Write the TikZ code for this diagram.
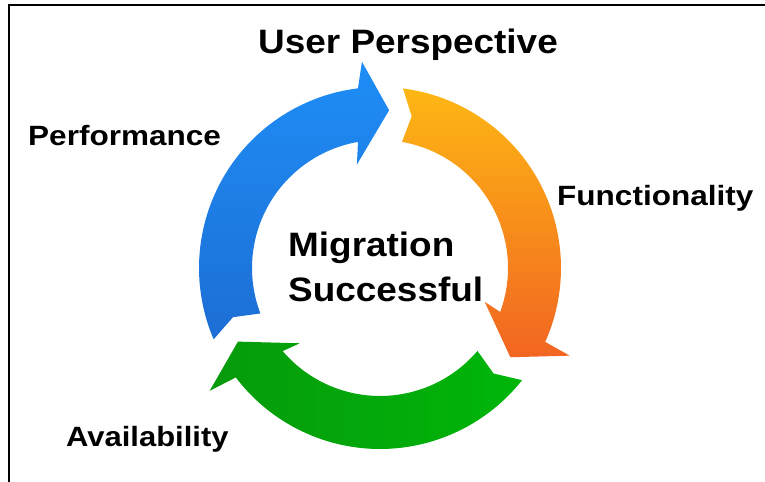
\documentclass[tikz,border=0pt]{standalone}
\usepackage{fontspec}
\setmainfont{Liberation Sans}
\definecolor{blueTop}{HTML}{1E8EF7}
\definecolor{blueBot}{HTML}{1D6ED4}
\definecolor{orangeTop}{HTML}{FDB714}
\definecolor{orangeBot}{HTML}{F26522}
\definecolor{greenL}{HTML}{079A0B}
\definecolor{greenR}{HTML}{00B60A}
\tikzset{
  biglabel/.style={anchor=base west, inner sep=0pt, font=\bfseries\fontsize{34}{36}\selectfont},
  smalllabel/.style={anchor=base west, inner sep=0pt, font=\bfseries\fontsize{28}{30}\selectfont},
}
\begin{document}
\begin{tikzpicture}[x=1bp,y=1bp]
\useasboundingbox (0,0) rectangle (765,482);
\fill[white] (0,0) rectangle (765,482);
\draw[line width=2bp] (9,0) -- (9,477) -- (765,477);
\begin{scope}[shift={(380,214)}]
  % blue arrow
  \shade[top color=blueTop, bottom color=blueBot]
    (203.2:181) arc[start angle=203.2, end angle=97, radius=181]
    -- (95:207) -- (86.7:158) -- (102.6:106) -- (99.9:128)
    arc[start angle=99.9, end angle=200.8, radius=128]
    -- (198.5:155) -- cycle;
  % orange arrow
  \shade[top color=orangeTop, bottom color=orangeBot]
    (82.7:181) arc[start angle=82.7, end angle=-24.1, radius=181]
    -- (-24.8:209) -- (-34.4:158) -- (-17.9:110) -- (-20.1:128)
    arc[start angle=-20.1, end angle=80.1, radius=128]
    -- (78.2:155) -- cycle;
  % green arrow
  \shade[left color=greenL, right color=greenR]
    (-38.3:181) arc[start angle=-38.3, end angle=-142.8, radius=181]
    -- (-144.2:210) -- (-152.6:160) -- (-136.8:110) -- (-139.5:128)
    arc[start angle=-139.5, end angle=-40.4, radius=128]
    -- (-42.9:155) -- cycle;
\end{scope}
\node[biglabel] (user) at (258,428) {\scalebox{1.09}[1]{User Perspective}};
\node[smalllabel] (perf) at (28,336) {\scalebox{1.13}[1]{Performance}};
\node[smalllabel] (func) at (557,276) {\scalebox{1.13}[1]{Functionality}};
\node[smalllabel] (avail) at (66,35) {\scalebox{1.11}[1]{Availability}};
\node[biglabel] (mig) at (288,225) {\scalebox{1.09}[1]{Migration}};
\node[biglabel] (succ) at (288,180) {\scalebox{1.09}[1]{Successful}};
\end{tikzpicture}
\end{document}
